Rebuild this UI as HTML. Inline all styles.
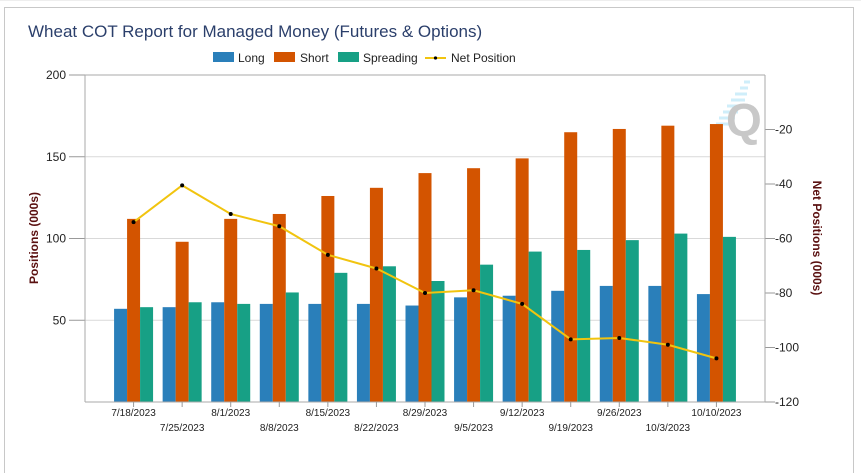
<!DOCTYPE html>
<html><head><meta charset="utf-8"><style>
html,body{margin:0;padding:0;background:#fff;width:861px;height:473px;overflow:hidden;font-family:"Liberation Sans",sans-serif}
</style></head><body>
<svg id="chart" width="861" height="473" xmlns="http://www.w3.org/2000/svg" font-family="Liberation Sans, sans-serif">
<rect x="0" y="0" width="861" height="473" fill="#fff"/>
<rect x="4.5" y="7.5" width="849" height="470" fill="#fff" stroke="#c8c8c8"/>
<line x1="0" y1="0" x2="861" y2="0" stroke="#ddd"/>
<text x="28" y="37" font-size="17" fill="#2b3f6b">Wheat COT Report for Managed Money (Futures &amp; Options)</text>
<g font-size="12" fill="#222">
<g><rect x="213" y="52" width="21" height="10" fill="#2a7fba"/><text x="238" y="62">Long</text></g>
<g><rect x="274" y="52" width="21" height="10" fill="#d35400"/><text x="300" y="62">Short</text></g>
<g><rect x="338" y="52" width="21" height="10" fill="#17a085"/><text x="363" y="62">Spreading</text></g>
<g><line x1="425" y1="58" x2="446" y2="58" stroke="#f1c40f" stroke-width="2"/><circle cx="435.5" cy="58" r="1.6" fill="#000"/><text x="451" y="62">Net Position</text></g>
</g>
<g id="grid"></g>
<g id="watermark">
<g stroke="#cfeefa" stroke-width="3"><line x1="744" y1="82" x2="750" y2="82"/><line x1="740" y1="88" x2="748" y2="88"/><line x1="735" y1="94" x2="747" y2="94"/><line x1="731" y1="100" x2="745" y2="100"/><line x1="727" y1="106" x2="742" y2="106"/><line x1="723" y1="112" x2="738" y2="112"/><line x1="719" y1="118" x2="735" y2="118"/><line x1="716" y1="124" x2="732" y2="124"/></g>
<text x="726" y="136" font-size="46" font-weight="bold" fill="#c8c8c8">Q</text>
</g>
<g id="bars"></g>
<g id="axes"></g>
<g id="line"></g>
<text transform="translate(38,238) rotate(-90)" text-anchor="middle" font-size="12" font-weight="bold" fill="#5a1010">Positions (000s)</text>
<text transform="translate(813,238) rotate(90)" text-anchor="middle" font-size="12" font-weight="bold" fill="#5a1010">Net Positions (000s)</text>
</svg>
<script>
const categories=["7/18/2023","7/25/2023","8/1/2023","8/8/2023","8/15/2023","8/22/2023","8/29/2023","9/5/2023","9/12/2023","9/19/2023","9/26/2023","10/3/2023","10/10/2023"];
const longVals=[57,58,61,60,60,60,59,64,65,68,71,71,66];
const shortVals=[112,98,112,115,126,131,140,143,149,165,167,169,170];
const spreadVals=[58,61,60,67,79,83,74,84,92,93,99,103,101];
const netVals=[-54,-40.5,-51,-55.5,-66,-71,-80,-79,-84,-97,-96.5,-99,-104];
const leftTicks=[50,100,150,200];
const rightTicks=[-20,-40,-60,-80,-100,-120];

const NS="http://www.w3.org/2000/svg";
const X0=85,X1=765,Y0=402,Y1=75;
const slot=(X1-X0)/(categories.length+1);
const xC=i=>X0+slot*(i+1);
const yL=v=>Y0-(v/200)*(Y0-Y1);
const yR=v=>Y0-((v+120)/120)*(Y0-Y1);
function mk(tag,attrs,parent){const e=document.createElementNS(NS,tag);for(const k in attrs)e.setAttribute(k,attrs[k]);parent.appendChild(e);return e;}
const grid=document.getElementById('grid'),bars=document.getElementById('bars'),axes=document.getElementById('axes'),lineG=document.getElementById('line');

leftTicks.forEach(t=>{
  const y=yL(t);
  if(t<200){const g=mk('line',{x1:X0,x2:X1,y1:y,y2:y,stroke:'#d9d9d9'},grid);
  
  }
  mk('line',{x1:X0-16,x2:X0,y1:y,y2:y,stroke:'#999'},axes);
  const tx=mk('text',{x:X0-19,y:y+4,'text-anchor':'end','font-size':12,fill:'#222'},axes);tx.textContent=t;
  
  
});
rightTicks.forEach(t=>{
  const y=yR(t);
  mk('line',{x1:X1,x2:X1+10,y1:y,y2:y,stroke:'#999'},axes);
  const tx=mk('text',{x:X1+10,y:y+4,'font-size':12,fill:'#222'},axes);tx.textContent=t;
  
  
});
mk('line',{x1:X0,x2:X0,y1:Y1,y2:Y0,stroke:'#aaa'},axes);
mk('line',{x1:X1,x2:X1,y1:Y1,y2:Y0,stroke:'#aaa'},axes);
mk('line',{x1:X0,x2:X1,y1:Y1,y2:Y1,stroke:'#aaa'},axes);
mk('line',{x1:X0,x2:X1,y1:Y0,y2:Y0,stroke:'#aaa'},axes);

const bw=13;
categories.forEach((c,i)=>{
  const cx=xC(i);
  [[longVals,'#2a7fba','bar-long',-1.5],[shortVals,'#d35400','bar-short',-0.5],[spreadVals,'#17a085','bar-spreading',0.5]].forEach(([arr,col,nm,off])=>{
    const y=yL(arr[i]);
    const r=mk('rect',{x:cx+off*bw,y:y,width:bw,height:Y0-y,fill:col},bars);
    
    
  });
  mk('line',{x1:cx,x2:cx,y1:Y0,y2:Y0+5,stroke:'#999'},axes);
  const tx=mk('text',{x:cx,y:Y0+(i%2?29:14),'text-anchor':'middle','font-size':10,fill:'#222'},axes);tx.textContent=c;
  
  
});
const pts=netVals.map((v,i)=>xC(i)+','+yR(v)).join(' ');
const pl=mk('polyline',{points:pts,fill:'none',stroke:'#f1c40f','stroke-width':2},lineG);


netVals.forEach((v,i)=>{
  const c=mk('circle',{cx:xC(i),cy:yR(v),r:2,fill:'#000'},lineG);
  
  
});
</script>
</body></html>
